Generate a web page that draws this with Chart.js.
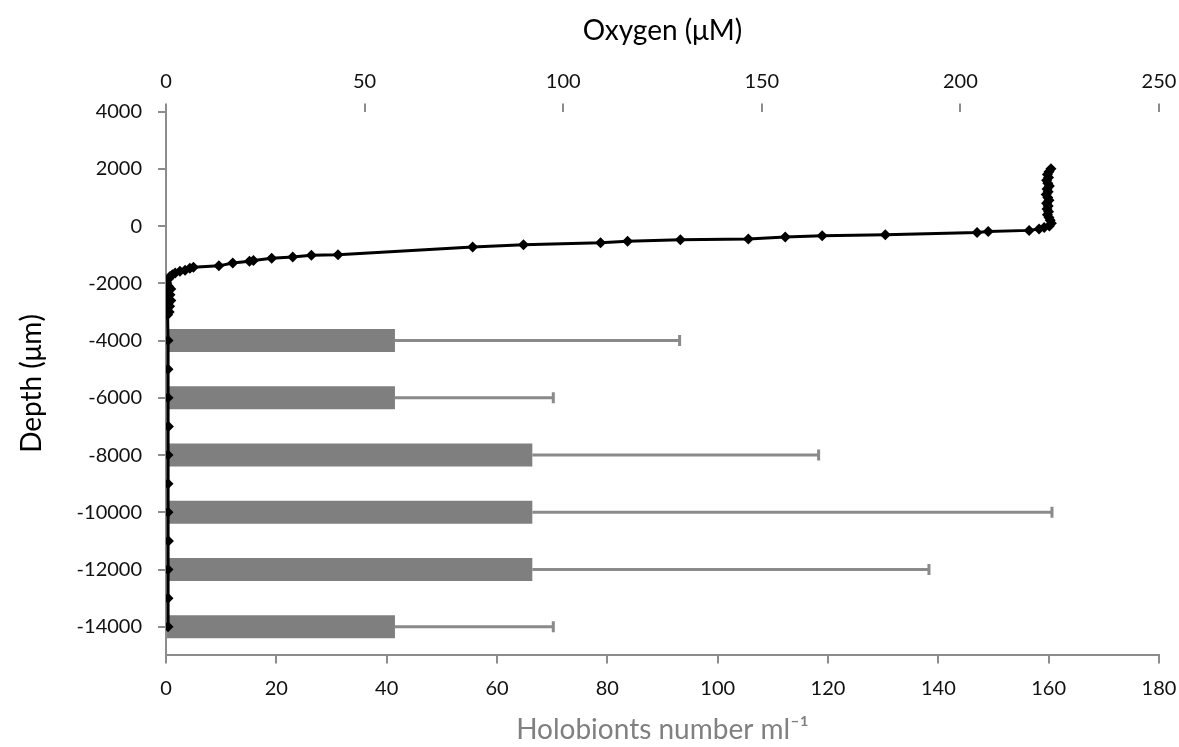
<!DOCTYPE html>
<html>
<head>
<meta charset="utf-8">
<script src="https://cdn.jsdelivr.net/npm/chart.js@4.4.1/dist/chart.umd.min.js"></script>
<style>
  body { margin: 0; background: #fff; }
  #wrap { width: 1179px; height: 747px; position: relative; }
</style>
</head>
<body>
<div id="wrap"><canvas id="profileChart"></canvas></div>
<script>
// oxygen micro-profile (depth in µm, oxygen in µM)
const o2Depth = [2000, 1900, 1800, 1700, 1600, 1500, 1400, 1300, 1200, 1100, 1000, 900, 800, 700, 600, 500, 400, 300, 200, 100, 0,
  -50, -100, -150, -190, -220, -300, -340, -380, -450, -480, -530, -580, -650, -730,
  -1000, -1020, -1080, -1120, -1200, -1230, -1290, -1390, -1440, -1470, -1540, -1580, -1640, -1700, -1760, -1850, -1990,
  -2100, -2200, -2300, -2400, -2500, -2600, -2700, -2800, -2900, -3000, -3100,
  -4000, -5000, -6000, -7000, -8000, -9000, -10000, -11000, -12000, -13000, -14000];
const oxygen = [222.8, 222.3, 221.9, 222.2, 221.7, 222.0, 222.4, 221.8, 222.1, 221.6, 222.0, 222.3, 221.7, 222.1, 221.8, 222.2, 221.9, 222.3, 222.6, 222.9, 222.4,
  221.1, 219.8, 217.3, 207.0, 204.2, 181.1, 165.2, 155.9, 146.6, 129.5, 116.2, 109.4, 90.0, 77.2,
  43.3, 36.6, 31.9, 26.6, 22.0, 21.0, 16.8, 13.3, 6.9, 6.0, 4.8, 3.5, 2.3, 1.6, 1.0, 0.6, 0.2,
  0.6, 1.2, 0.4, 1.0, 0.3, 1.2, 0.5, 0.9, 0.3, 0.8, 0.4,
  0.5, 0.5, 0.5, 0.6, 0.5, 0.5, 0.5, 0.6, 0.5, 0.5, 0.5];

// holobiont counts per depth layer
const barDepth = [-4000, -6000, -8000, -10000, -12000, -14000];
const holobionts = [41.5, 41.5, 66.4, 66.4, 66.4, 41.5];
const holobiontsErr = [51.6, 28.7, 51.9, 94.2, 71.9, 28.7];

const axisGray = '#8c8c8c';
const tickFont = { family: 'Lato, "Open Sans", sans-serif', size: 20 };
const titleFont = { family: 'Lato, "Open Sans", sans-serif', size: 28 };

const errorBars = {
  id: 'errorBars',
  afterDatasetsDraw(chart) {
    const meta = chart.getDatasetMeta(1);
    const xs = chart.scales.x;
    const c = chart.ctx;
    c.save();
    c.strokeStyle = '#8a8a8a';
    c.lineWidth = 3;
    meta.data.forEach((bar, i) => {
      const x1 = xs.getPixelForValue(holobionts[i] + holobiontsErr[i]);
      c.beginPath();
      c.moveTo(bar.x, bar.y);
      c.lineTo(x1, bar.y);
      c.moveTo(x1, bar.y - 5.5);
      c.lineTo(x1, bar.y + 5.5);
      c.stroke();
    });
    c.restore();
  }
};

// keep the right margin tight, like the original
const trimRight = (scale) => { scale.paddingRight = 20; };

const ctx = document.getElementById('profileChart').getContext('2d');

new Chart(ctx, {
  type: 'scatter',
  data: {
    datasets: [{
      type: 'scatter',
      label: 'Oxygen',
      order: 0,
      data: oxygen.map((v, i) => ({ x: v, y: o2Depth[i] })),
      xAxisID: 'x2',
      yAxisID: 'y',
      showLine: true,
      borderColor: '#000',
      borderWidth: 3,
      backgroundColor: '#000',
      pointStyle: 'rectRot',
      pointRadius: 5.5,
      pointBorderWidth: 0,
      tension: 0,
    }, {
      type: 'bar',
      label: 'Holobionts',
      order: 1,
      indexAxis: 'y',
      grouped: false,
      data: holobionts.map((v, i) => ({ x: v, y: barDepth[i] })),
      xAxisID: 'x',
      yAxisID: 'y',
      backgroundColor: '#7f7f7f',
      borderWidth: 0,
      categoryPercentage: 1,
      barPercentage: 0.8,
    }]
  },
  options: {
    responsive: true,
    maintainAspectRatio: false,
    animation: false,
    layout: { padding: { left: 15, right: 0, top: 14, bottom: 0 } },
    plugins: {
      legend: { display: false },
      tooltip: { enabled: false },
    },
    scales: {
      x: {
        type: 'linear',
        position: 'bottom',
        min: 0,
        max: 180,
        offset: false,
        afterFit: trimRight,
        ticks: { stepSize: 20, color: '#111', font: tickFont, padding: 13 },
        grid: { drawOnChartArea: false, offset: false, color: axisGray, lineWidth: 2, tickLength: 8 },
        border: { color: axisGray, width: 2 },
        title: { display: true, text: 'Holobionts number ml⁻¹', color: '#808080', font: titleFont, padding: { top: 0, bottom: 0 } },
      },
      x2: {
        type: 'linear',
        position: 'top',
        min: 0,
        max: 250,
        offset: false,
        afterFit: trimRight,
        ticks: { stepSize: 50, color: '#111', font: tickFont, padding: 10 },
        grid: { drawOnChartArea: false, offset: false, color: axisGray, lineWidth: 2, tickLength: 8 },
        border: { display: false },
        title: { display: true, text: 'Oxygen (μM)', color: '#000', font: titleFont, padding: { top: 0, bottom: 12 } },
      },
      y: {
        type: 'linear',
        min: -15000,
        max: 4000,
        offset: false,
        ticks: {
          stepSize: 1000,
          autoSkip: false,
          color: '#111',
          font: tickFont,
          padding: 16,
          callback: (v) => (v % 2000 === 0 ? String(v) : ''),
        },
        grid: {
          drawOnChartArea: false,
          offset: false,
          lineWidth: 2,
          tickLength: 8,
          color: (c) => (c.tick && c.tick.value % 2000 === 0 ? axisGray : 'rgba(0,0,0,0)'),
        },
        border: { color: axisGray, width: 2 },
        title: { display: true, text: 'Depth (μm)', color: '#000', font: titleFont, padding: { top: 0, bottom: 12 } },
      }
    }
  },
  plugins: [errorBars]
});
</script>
</body>
</html>
